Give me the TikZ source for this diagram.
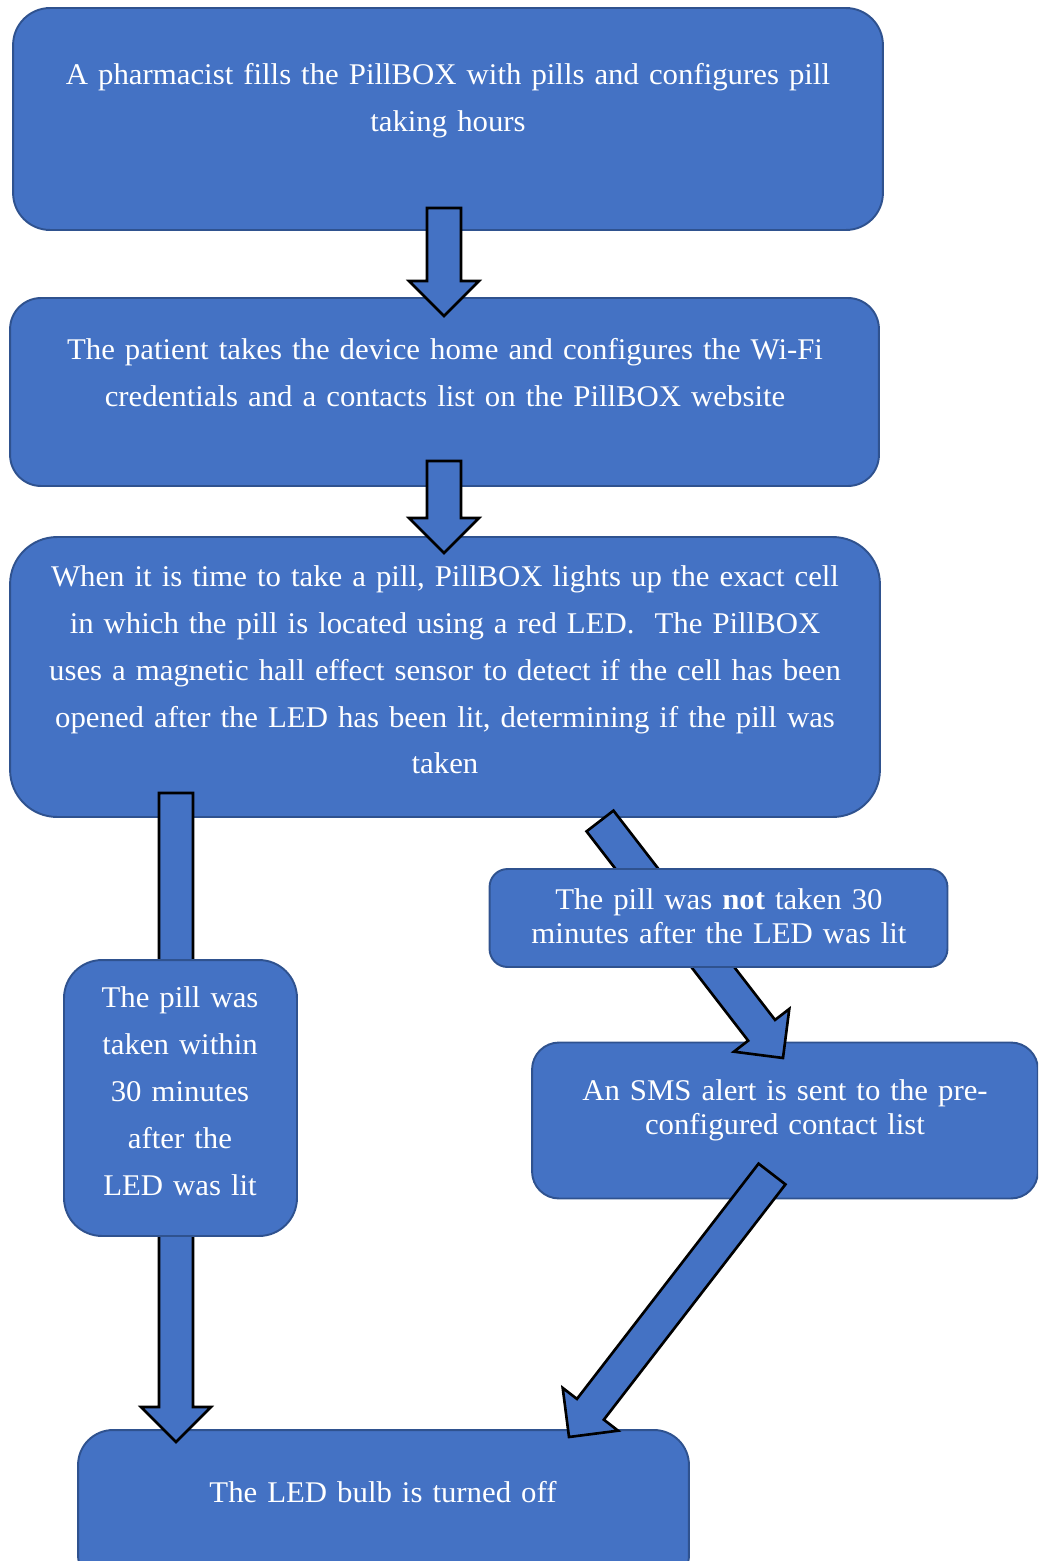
\documentclass[tikz,border=0pt]{standalone}
\usepackage{fontspec}
\setmainfont[FakeStretch=1.025]{Liberation Serif}
\usetikzlibrary{calc}
\definecolor{boxfill}{HTML}{4472C4}
\definecolor{boxline}{HTML}{2F528F}

\newcommand{\blockarrow}[2]{%
    \draw[blockarr] let \p1=($(#2)-(#1)$), \n1={atan2(\y1,\x1)},
        \n2={veclen(\x1,\y1)} in
        [shift={(#1)}, rotate=\n1]
        (0pt,-9.67pt) -- ({\n2-19.92pt},-9.67pt) -- ({\n2-19.92pt},-19.92pt)
        -- ({\n2+0pt},0pt) -- ({\n2-19.92pt},19.92pt) -- ({\n2-19.92pt},9.67pt)
        -- (0pt,9.67pt) -- cycle;
}

\begin{document}
\begin{tikzpicture}[
        x=0.02cm, y=-0.02cm,
        box/.style={draw=boxline, line width=1.1pt, fill=boxfill, inner sep=0pt},
        txt/.style={text=white, align=center, inner sep=0pt, anchor=base,
            font=\fontsize{17.1pt}{26.75pt}\selectfont},
        tight/.style={font=\fontsize{17.1pt}{19.35pt}\selectfont},
        blockarr/.style={draw=black, fill=boxfill, line width=1.5pt, line join=miter},
    ]
        \useasboundingbox (0,0) rectangle (1038,1561);
        \clip (0,0) rectangle (1038,1561);

        \node[box, minimum width=17.4cm, minimum height=4.44cm, rounded corners=0.74cm]
            (pharm) at (448,119) {};
        \node[txt, text width=16.8cm] (pharmtxt) at (448,85)
            {A pharmacist fills the PillBOX with pills and configures pill\\taking hours};

        \node[box, minimum width=17.38cm, minimum height=3.76cm, rounded corners=0.62cm]
            (setup) at (444.5,392) {};
        \node[txt, text width=16.8cm] (setuptxt) at (445,359)
            {The patient takes the device home and configures the Wi-Fi\\credentials and a contacts list on the PillBOX website};

        \node[box, minimum width=17.4cm, minimum height=5.6cm, rounded corners=0.94cm]
            (remind) at (445,677) {};
        \node[txt, text width=16.8cm] (remindtxt) at (445,586)
            {When it is time to take a pill, PillBOX lights up the exact cell\\
             in which the pill is located using a red LED.\ \ The PillBOX\\
             uses a magnetic hall effect sensor to detect if the cell has been\\
             opened after the LED has been lit, determining if the pill was\\
             taken};

        \node[box, minimum width=10.12cm, minimum height=3.12cm, rounded corners=0.54cm]
            (alert) at (785,1120.5) {};
        \node[txt, tight, text width=9.8cm] (alerttxt) at (785,1100)
            {An SMS alert is sent to the pre-\\configured contact list};

        \node[box, minimum width=12.22cm, minimum height=3.2cm, rounded corners=0.7cm]
            (ledoff) at (383.5,1510) {};
        \node[txt, text width=11.8cm] (ledofftxt) at (383,1502)
            {The LED bulb is turned off};

        % arrow ends
        \coordinate (pharmout) at (444,208);
        \coordinate (setupin) at (444,316);
        \coordinate (setupout) at (444,461);
        \coordinate (remindin) at (444,553);
        \coordinate (takenout) at (176,793);
        \coordinate (ledoffin) at (176,1442);
        \coordinate (missedout) at (600,821);
        \coordinate (alertin) at (783,1058);
        \coordinate (alertout) at (772,1174);
        \coordinate (ledoffin2) at (569,1437);

        \blockarrow{pharmout}{setupin}
        \blockarrow{setupout}{remindin}
        \blockarrow{takenout}{ledoffin}
        \blockarrow{missedout}{alertin}
        \blockarrow{alertout}{ledoffin2}

        \node[box, minimum width=9.16cm, minimum height=1.96cm, rounded corners=0.36cm]
            (missed) at (718.5,918) {};
        \node[txt, tight, text width=8.8cm] (missedtxt) at (719,909)
            {The pill was \textbf{not} taken 30\\minutes after the LED was lit};

        \node[box, minimum width=4.66cm, minimum height=5.52cm, rounded corners=0.76cm]
            (taken) at (180.5,1098) {};
        \node[txt, text width=4.4cm] (takentxt) at (180,1007)
            {The pill was\\taken within\\30 minutes\\after the\\LED was lit};
    \end{tikzpicture}
\end{document}
